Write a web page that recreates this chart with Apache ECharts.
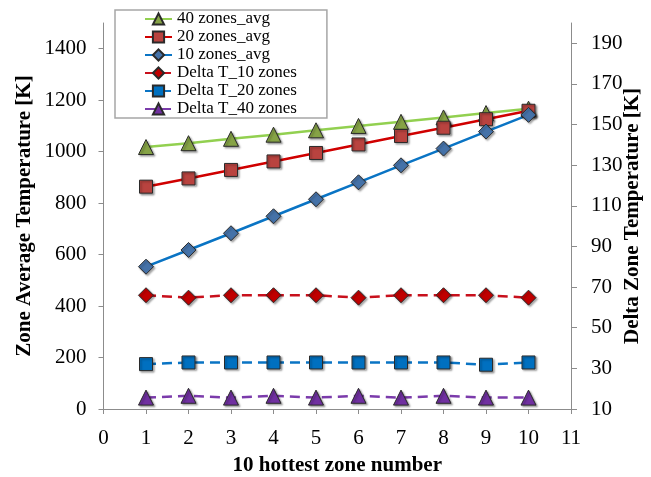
<!DOCTYPE html>
<html>
<head>
<meta charset="utf-8">
<script src="https://cdn.jsdelivr.net/npm/echarts@6/dist/echarts.min.js"></script>
<style>
  html, body { margin: 0; padding: 0; background: #fff; }
  #chart { width: 651px; height: 477px; }
</style>
</head>
<body>
<div id="chart"></div>
<script>
// Zone index along the x axis
const zones = [1, 2, 3, 4, 5, 6, 7, 8, 9, 10];

// Zone average temperatures [K] (left axis)
const avg40 = [1018, 1033, 1050, 1066, 1083, 1100, 1116, 1133, 1150, 1167];
const avg20 = [864, 896, 929, 962, 995, 1028, 1061, 1093, 1126, 1159];
const avg10 = [553, 618, 683, 749, 815, 881, 947, 1012, 1078, 1143];

// Delta zone temperatures [K] (right axis)
const delta10 = [66, 64.8, 66, 66, 66, 64.8, 66, 66, 66, 64.8];
const delta20 = [32.1, 32.9, 32.9, 32.9, 32.9, 32.9, 32.9, 32.9, 31.8, 32.9];
const delta40 = [15.6, 16.5, 15.6, 16.5, 15.6, 16.5, 15.6, 16.5, 15.6, 15.6];

// Tick labels
const xTicks = [0, 1, 2, 3, 4, 5, 6, 7, 8, 9, 10, 11];
const leftTicks = [0, 200, 400, 600, 800, 1000, 1200, 1400];
const rightTicks = [10, 30, 50, 70, 90, 110, 130, 150, 170, 190];

const FONT = 'Liberation Serif';
const AXIS_GREY = '#8c8c8c';

const pairs = vals => zones.map((z, i) => [z, vals[i]]);
const plain = v => String(v);

const markerShadow = {
  shadowColor: 'rgba(0,0,0,0.35)',
  shadowBlur: 2,
  shadowOffsetX: 1.5,
  shadowOffsetY: 1.5
};

function lineSeries(name, vals, yAxisIndex, symbol, size, lineColor, fillColor, dashed) {
  return {
    name: name,
    type: 'line',
    yAxisIndex: yAxisIndex,
    data: pairs(vals),
    symbol: symbol,
    symbolSize: size,
    showAllSymbol: true,
    animation: false,
    lineStyle: {
      color: lineColor,
      width: 2.5,
      type: dashed ? [10, 6] : 'solid'
    },
    itemStyle: Object.assign({
      color: fillColor,
      borderColor: '#2a2a2a',
      borderWidth: 1
    }, markerShadow),
    emphasis: { disabled: true }
  };
}

const titleStyle = { fontFamily: FONT, fontSize: 21, fontWeight: 'bold', color: '#000' };

const chart = echarts.init(document.getElementById('chart'), null, { renderer: 'canvas' });

chart.setOption({
  backgroundColor: '#fff',
  animation: false,
  textStyle: { fontFamily: FONT },
  grid: { left: 103.5, right: 80, top: 23, bottom: 68, containLabel: false, outerBoundsMode: 'none' },
  legend: {
    orient: 'vertical',
    left: 115,
    top: 10,
    padding: [0, 30, 0, 29],
    itemWidth: 27,
    itemHeight: 14,
    itemGap: 0,
    backgroundColor: '#fff',
    borderColor: '#a6a6a6',
    borderWidth: 1.5,
    textStyle: { fontFamily: FONT, fontSize: 17, color: '#000', lineHeight: 18 },
    data: ['40 zones_avg', '20 zones_avg', '10 zones_avg',
           'Delta T_10 zones', 'Delta T_20 zones', 'Delta T_40 zones']
  },
  xAxis: {
    type: 'value',
    min: 0,
    max: 11,
    interval: 1,
    name: '10 hottest zone number',
    nameLocation: 'middle',
    nameGap: 46,
    nameMoveOverlap: false,
    nameTextStyle: titleStyle,
    axisLine: { onZero: false, lineStyle: { color: AXIS_GREY, width: 1 } },
    axisTick: { show: true, inside: false, length: 5, lineStyle: { color: AXIS_GREY }, customValues: xTicks },
    axisLabel: { fontFamily: FONT, fontSize: 21, color: '#000', margin: 19, formatter: plain, customValues: xTicks },
    splitLine: { show: false }
  },
  yAxis: [
    {
      type: 'value',
      position: 'left',
      min: 0,
      max: 1500,
      interval: 200,
      name: 'Zone Average Temperature [K]',
      nameLocation: 'middle',
      nameGap: 68,
      nameRotate: 90,
      nameMoveOverlap: false,
      nameTextStyle: titleStyle,
      axisLine: { show: true, lineStyle: { color: AXIS_GREY, width: 1 } },
      axisTick: { show: true, length: 5, lineStyle: { color: AXIS_GREY }, customValues: leftTicks },
      axisLabel: { fontFamily: FONT, fontSize: 21, color: '#000', margin: 17, formatter: plain, customValues: leftTicks },
      splitLine: { show: false }
    },
    {
      type: 'value',
      position: 'right',
      min: 10,
      max: 200,
      interval: 20,
      name: 'Delta Zone Temperature [K]',
      nameLocation: 'middle',
      nameGap: 51,
      nameRotate: 90,
      nameMoveOverlap: false,
      nameTextStyle: titleStyle,
      axisLine: { show: true, lineStyle: { color: AXIS_GREY, width: 1 } },
      axisTick: { show: true, length: 6, lineStyle: { color: AXIS_GREY }, customValues: rightTicks },
      axisLabel: { fontFamily: FONT, fontSize: 21, color: '#000', margin: 20, formatter: plain, customValues: rightTicks },
      splitLine: { show: false }
    }
  ],
  series: [
    lineSeries('40 zones_avg', avg40, 0, 'triangle', 15, '#92d050', '#86a346', false),
    lineSeries('20 zones_avg', avg20, 0, 'rect', 13, '#d00000', '#b9433f', false),
    lineSeries('10 zones_avg', avg10, 0, 'diamond', 15, '#0a74c4', '#4572a8', false),
    lineSeries('Delta T_10 zones', delta10, 1, 'diamond', 15, '#c8101c', '#c00000', true),
    lineSeries('Delta T_20 zones', delta20, 1, 'rect', 13, '#0a74c4', '#0070c0', true),
    lineSeries('Delta T_40 zones', delta40, 1, 'triangle', 15, '#7b3bab', '#7030a0', true)
  ]
});
</script>
</body>
</html>
